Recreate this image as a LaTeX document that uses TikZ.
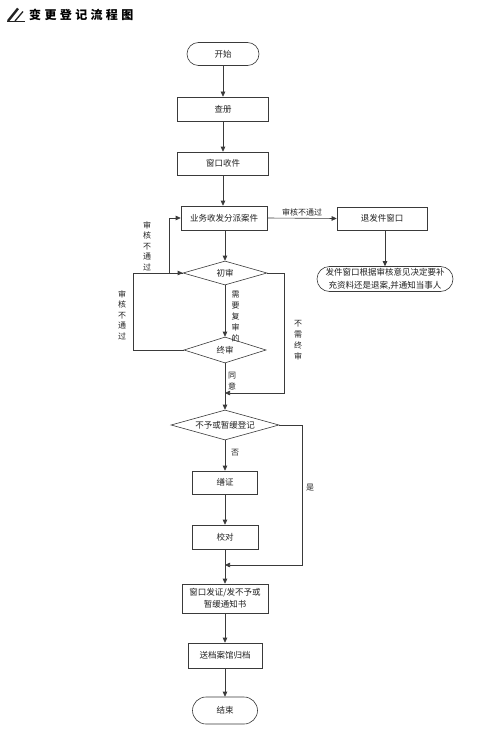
\documentclass[tikz,border=0pt]{standalone}
\usepackage{fontspec}
\setmainfont{Noto Sans CJK SC}
\newfontfamily\cjktitle[LetterSpace=28]{Noto Sans CJK SC}
\usetikzlibrary{shapes.geometric,arrows.meta}
\definecolor{ln}{HTML}{3A3A3A}
\definecolor{tx}{HTML}{222222}
\tikzset{
  base/.style={draw=ln, line width=0.6pt, text=tx, inner sep=0pt, font=\fontsize{8.5}{10}\selectfont},
  proc/.style={base, rectangle},
  term/.style={base, rectangle},
  dec/.style={base, diamond, aspect=3.6},
  arr/.style={draw=ln, line width=0.6pt, -{Triangle[length=5pt,width=4.5pt]}},
  vlab/.style={text=tx, inner sep=0pt, align=center, font=\fontsize{8}{10.5}\selectfont},
  hlab/.style={text=tx, inner sep=1pt, font=\fontsize{8}{10}\selectfont}
}
\begin{document}
\begin{tikzpicture}[x=1pt,y=-1pt]
\useasboundingbox[fill=white] (0,0) rectangle (500,733);
% title
\draw[line width=2.4pt, tx] (8,21) -- (18,8.5);
\draw[line width=1.3pt, tx] (15,21) -- (23,11.5);
\draw[line width=1.3pt, tx] (7,21.5) -- (25,21.5);
\node[anchor=west, inner sep=0pt, text=black, font=\cjktitle\bfseries\fontsize{12}{14}\selectfont] (title) at (29,15) {变更登记流程图};
% nodes
\node[term, rounded corners=11.5pt, minimum width=72pt, minimum height=23pt] (start) at (223,54) {开始};
\node[proc, minimum width=91pt, minimum height=24pt] (cha) at (223,109) {查册};
\node[proc, minimum width=91pt, minimum height=23pt] (shou) at (223,163.5) {窗口收件};
\node[proc, minimum width=86pt, minimum height=24pt] (ye) at (224,218) {业务收发分派案件};
\node[proc, minimum width=90pt, minimum height=23pt] (tui) at (382,218.5) {退发件窗口};
\node[term, rounded corners=12.5pt, minimum width=136pt, minimum height=25pt, align=center, font=\fontsize{8.5}{12.5}\selectfont] (fj) at (385,279) {发件窗口根据审核意见决定要补\\充资料还是退案,并通知当事人};
\node[dec, minimum width=84pt, minimum height=24pt] (chu) at (225,273) {初审};
\node[dec, minimum width=82pt, minimum height=26pt] (zhong) at (225,350) {终审};
\node[dec, minimum width=108pt, minimum height=30pt] (buyu) at (225,425) {不予或暂缓登记};
\node[proc, minimum width=65pt, minimum height=23pt] (shan) at (225,482.5) {缮证};
\node[proc, minimum width=66pt, minimum height=24pt] (jiao) at (225,537) {校对};
\node[proc, minimum width=86pt, minimum height=29pt, align=center, font=\fontsize{8.5}{12}\selectfont] (fz) at (225,598.5) {窗口发证/发不予或\\暂缓通知书};
\node[proc, minimum width=74pt, minimum height=25pt] (song) at (225,655.5) {送档案馆归档};
\node[term, rounded corners=13.5pt, minimum width=65pt, minimum height=27pt] (end) at (225,710.5) {结束};
% coordinates
\coordinate (c1) at (169,273);
\coordinate (c2) at (133,350);
\coordinate (c3) at (133,273);
\coordinate (c4) at (284,393);
\coordinate (c5) at (225,393);
\coordinate (c6) at (302,565);
\coordinate (c7) at (225,565);
% main flow
\draw[arr] (start) -- (cha);
\draw[arr] (cha) -- (shou);
\draw[arr] (shou) -- (ye.north -| shou);
\draw[arr] (ye.south -| chu.north) -- (chu.north);
\draw[arr] (chu.south) -- (zhong.north);
\draw[arr] (zhong.south) -- (buyu.north);
\draw[arr] (buyu.south) -- (shan.north);
\draw[arr] (shan) -- (jiao);
\draw[arr] (jiao) -- (fz);
\draw[arr] (fz) -- (song);
\draw[arr] (song) -- (end);
% side flows
\draw[arr] (ye.east) -- node[hlab, above, yshift=1pt] (l1) {审核不通过} (tui.west);
\draw[arr] (tui.south -| fj.north) -- (fj.north);
\draw[arr] (chu.west) -- (c1) |- (ye.west);
\draw[arr] (zhong.west) -- (c2) -- (c3) -- (chu.west);
\draw[arr] (chu.east) -| (c4) -- (c5);
\draw[arr] (buyu.east) -| (c6) -- (c7);
% labels
\node[vlab] (l2) at (147,246) {审\\核\\不\\通\\过};
\node[vlab] (l3) at (122,315) {审\\核\\不\\通\\过};
\node[vlab, font=\fontsize{8}{11}\selectfont] (l4) at (235.5,317) {需\\要\\复\\审\\的};
\node[vlab, font=\fontsize{8}{11}\selectfont] (l5) at (298,340) {不\\需\\终\\审};
\node[vlab, font=\fontsize{8}{11}\selectfont] (l6) at (232,381) {同\\意};
\node[hlab] (l7) at (235,453) {否};
\node[hlab] (l8) at (310,488) {是};
\end{tikzpicture}
\end{document}
